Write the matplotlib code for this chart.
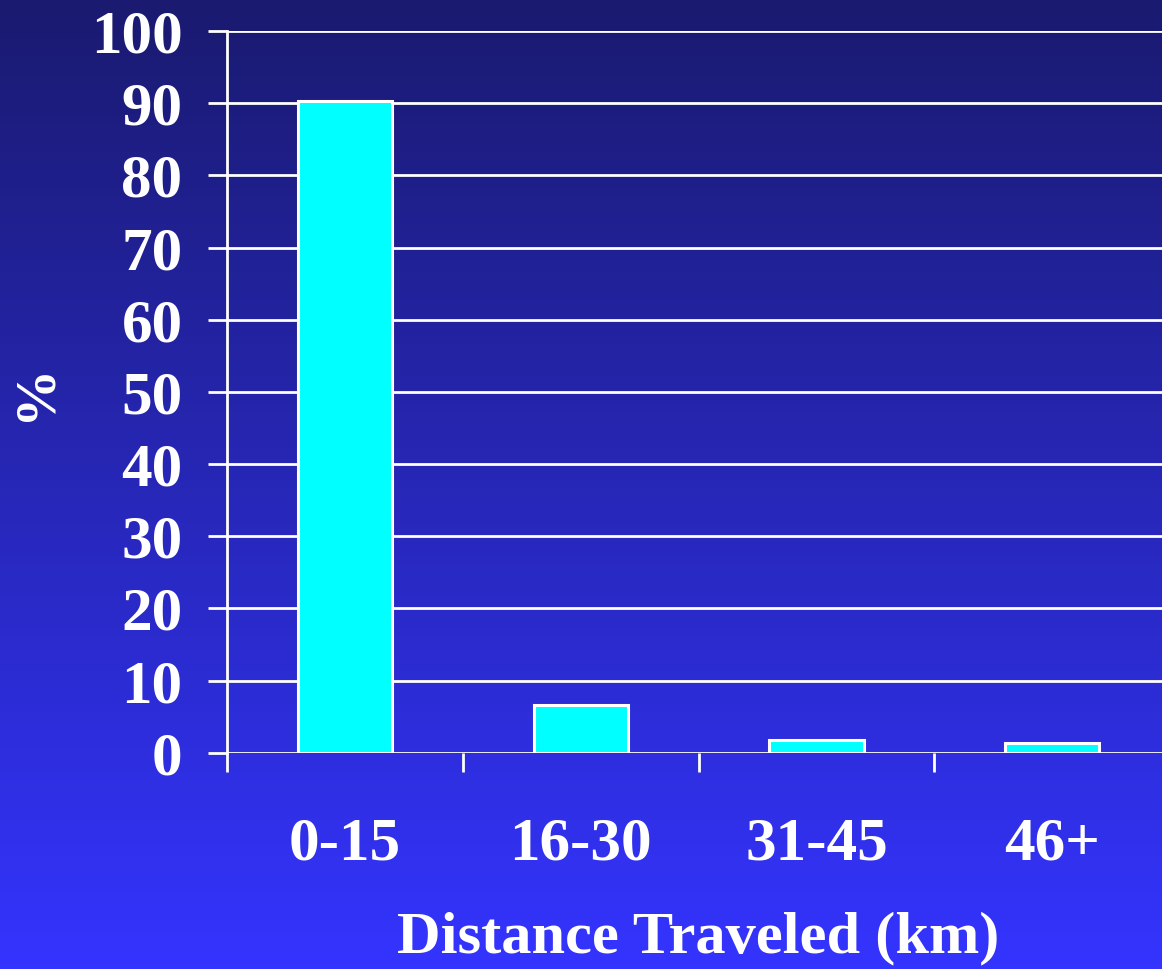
import numpy as np
import matplotlib
matplotlib.use("Agg")
import matplotlib.pyplot as plt
from matplotlib.colors import LinearSegmentedColormap

# distance bins and share of trips (%)
categories = ["0-15", "16-30", "31-45", "46+"]
percent = [90.3, 6.6, 1.7, 1.4]
yticks = [0, 10, 20, 30, 40, 50, 60, 70, 80, 90, 100]

plt.rcParams['font.family'] = ['Liberation Serif', 'DejaVu Serif']
plt.rcParams['font.weight'] = 'bold'

fig = plt.figure(figsize=(11.62, 9.69), dpi=100)

# gradient backdrop, dark navy at top to bright blue at bottom
bg = fig.add_axes([0, 0, 1, 1], zorder=0)
cmap = LinearSegmentedColormap.from_list("bg", ["#1a1a70", "#3434ff"])
grad = np.linspace(0, 1, 256).reshape(-1, 1)
bg.imshow(grad, cmap=cmap, aspect='auto', extent=[0, 1, 1, 0])
bg.set_axis_off()

ax = fig.add_axes([0.1954, 0.2232, 0.8115, 0.7448], zorder=1)
ax.set_facecolor('none')

x = np.arange(len(categories))
ax.bar(x, percent, width=0.40, color='#00ffff', edgecolor='white',
       linewidth=2.2, zorder=3)

ax.set_xlim(-0.5, len(categories) - 0.5)
ax.set_ylim(0, 100)
ax.set_yticks(yticks)
ax.yaxis.grid(True, color='white', linewidth=2.0, zorder=1)
ax.set_axisbelow(True)

for s in ['top', 'right', 'bottom']:
    ax.spines[s].set_visible(False)
ax.spines['left'].set_color('white')
ax.spines['left'].set_linewidth(2.0)

# category labels centered, boundary ticks as minor ticks
ax.set_xticks(x)
ax.set_xticklabels(categories)
ax.set_xticks(np.arange(-0.5, len(categories), 1.0), minor=True)
ax.tick_params(axis='x', which='major', length=0, pad=46,
               labelsize=44, labelcolor='white')
ax.tick_params(axis='x', which='minor', length=14, width=2.0,
               color='white', direction='out')
ax.tick_params(axis='y', length=14, width=2.0, color='white',
               pad=18, labelsize=44, labelcolor='white')
for lab in ax.get_xticklabels() + ax.get_yticklabels():
    lab.set_fontweight('bold')

ax.set_xlabel("Distance Traveled (km)", fontsize=43.5, fontweight='bold',
              color='white', labelpad=28)
ax.set_ylabel("%", fontsize=42, fontweight='bold', color='white',
              labelpad=21)

plt.savefig("out.png", dpi=100)
plt.close()
